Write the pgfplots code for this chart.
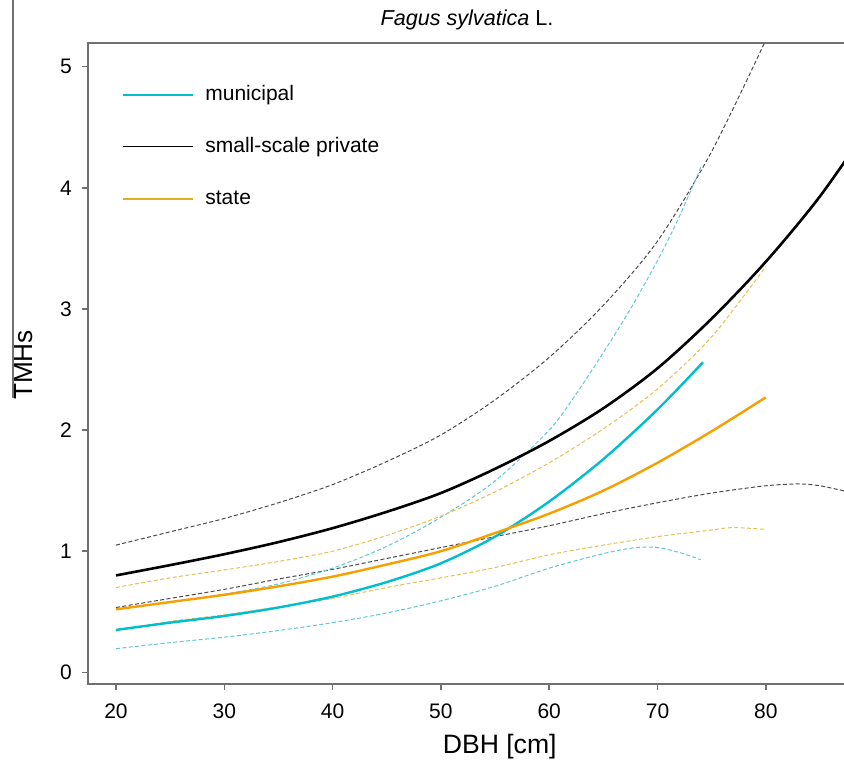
\documentclass[border=0pt]{standalone}
\usepackage{pgfplots}
\pgfplotsset{compat=1.18}
\usepackage{fontspec}
\setmainfont{Liberation Sans}
\definecolor{cyanc}{RGB}{0,190,205}
\definecolor{cyand}{RGB}{95,200,210}
\definecolor{orangec}{RGB}{245,160,0}
\definecolor{oranged}{RGB}{228,192,85}
\definecolor{blackd}{RGB}{75,75,75}
\definecolor{axisgray}{RGB}{112,112,112}
\definecolor{legstate}{RGB}{222,178,30}
\begin{document}
\begin{tikzpicture}
\begin{axis}[
  at={(0,0)}, anchor=south west, scale only axis,
  width=380pt, height=320.5pt,
  xmin=17.415, xmax=87.59, ymin=-0.0966, ymax=5.196,
  xtick={20,30,...,80}, ytick={0,1,...,5},
  tick pos=left, tick align=outside, major tick length=3pt,
  every tick/.style={axisgray, line width=0.75pt},
  axis line style={axisgray, line width=0.75pt},
  tick label style={font=\fontsize{10.5}{12}\selectfont},
  /pgf/number format/assume math mode=true,
  xticklabel style={yshift=-3.2pt},
  yticklabel style={xshift=-1.6pt},
  title={\textit{Fagus sylvatica} L.},
  title style={at={([yshift=8.5pt]axis description cs:0.4987,1)}, anchor=base, yshift=-6pt, font=\fontsize{10.8}{13}\selectfont},
  xlabel={DBH [cm]},
  xlabel style={at={([yshift=-34.5pt]axis description cs:0.5417,0)}, anchor=base, font=\fontsize{13.3}{16}\selectfont},
  ylabel={TMHs},
  ylabel style={at={([xshift=-27.5pt]axis description cs:0,0.4977)}, anchor=base, font=\fontsize{13.1}{16}\selectfont},
  every axis plot/.append style={smooth, tension=0.5},
]
% dashed confidence bands
\addplot[blackd, line width=0.5pt, dash pattern=on 2pt off 1.2pt] coordinates {(20,1.05)(25,1.16)(30,1.27)(35,1.40)(40,1.55)(45,1.74)(50,1.96)(55,2.25)(60,2.60)(65,3.03)(70,3.56)(75,4.30)(80,5.22)};
\addplot[blackd, line width=0.5pt, dash pattern=on 2pt off 1.2pt] coordinates {(20,0.535)(25,0.61)(30,0.685)(35,0.77)(40,0.85)(45,0.94)(50,1.03)(55,1.12)(60,1.21)(65,1.31)(70,1.40)(75,1.48)(80,1.54)(83,1.555)(85,1.54)(87.6,1.49)};
\addplot[cyand, line width=0.5pt, dash pattern=on 2pt off 1.2pt] coordinates {(20,0.52)(25,0.58)(30,0.645)(35,0.73)(40,0.86)(45,1.04)(50,1.28)(55,1.58)(60,2.00)(62.5,2.30)(65,2.64)(67.5,3.00)(70,3.40)(72,3.76)(74,4.17)};
\addplot[cyand, line width=0.5pt, dash pattern=on 2pt off 1.2pt] coordinates {(20,0.195)(25,0.245)(30,0.29)(35,0.345)(40,0.41)(45,0.49)(50,0.59)(55,0.71)(60,0.86)(65,0.98)(68,1.03)(70,1.03)(72,0.99)(74,0.93)};
\addplot[oranged, line width=0.5pt, dash pattern=on 2pt off 1.2pt] coordinates {(20,0.70)(25,0.78)(30,0.845)(35,0.915)(40,1.00)(45,1.13)(50,1.29)(55,1.49)(60,1.73)(65,2.01)(70,2.34)(75,2.77)(80,3.35)};
\addplot[oranged, line width=0.5pt, dash pattern=on 2pt off 1.2pt] coordinates {(20,0.34)(25,0.42)(30,0.475)(35,0.54)(40,0.61)(45,0.70)(50,0.78)(55,0.865)(60,0.97)(65,1.05)(70,1.12)(75,1.175)(77,1.195)(80,1.18)};
% fitted curves
\addplot[black, line width=1.3pt] coordinates {(20,0.80)(25,0.885)(30,0.975)(35,1.075)(40,1.19)(45,1.325)(50,1.48)(55,1.68)(60,1.91)(65,2.18)(70,2.51)(75,2.92)(80,3.39)(85,3.93)(90,4.57)};
\addplot[cyanc, line width=1.2pt] coordinates {(20,0.35)(25,0.41)(30,0.465)(35,0.535)(40,0.625)(45,0.745)(50,0.90)(55,1.12)(60,1.41)(65,1.76)(70,2.17)(74.2,2.56)};
\addplot[orangec, line width=1.2pt] coordinates {(20,0.52)(25,0.58)(30,0.64)(35,0.71)(40,0.79)(45,0.89)(50,1.00)(55,1.15)(60,1.31)(65,1.50)(70,1.73)(75,1.99)(80,2.27)};
\end{axis}
% legend
\draw[cyanc, line width=0.8pt] (17.5pt,294.5pt) -- (52.5pt,294.5pt);
\draw[black, line width=0.8pt] (17.5pt,268.65pt) -- (52.5pt,268.65pt);
\draw[legstate, line width=0.8pt] (17.5pt,242.35pt) -- (52.5pt,242.35pt);
\node[anchor=base west, inner sep=0pt, font=\fontsize{10.5}{12}\selectfont] at (58.5pt,291.8pt) {municipal};
\node[anchor=base west, inner sep=0pt, font=\fontsize{10.5}{12}\selectfont] at (58.5pt,265.95pt) {small-scale private};
\node[anchor=base west, inner sep=0pt, font=\fontsize{10.5}{12}\selectfont] at (58.5pt,239.65pt) {state};
% edge of neighbouring panel
\draw[axisgray, line width=0.8pt] (-37.5pt,143pt) -- (-37.5pt,342pt);
\pgfresetboundingbox
\path[use as bounding box] (-44pt,-37.5pt) rectangle (378pt,342pt);
\end{tikzpicture}
\end{document}
